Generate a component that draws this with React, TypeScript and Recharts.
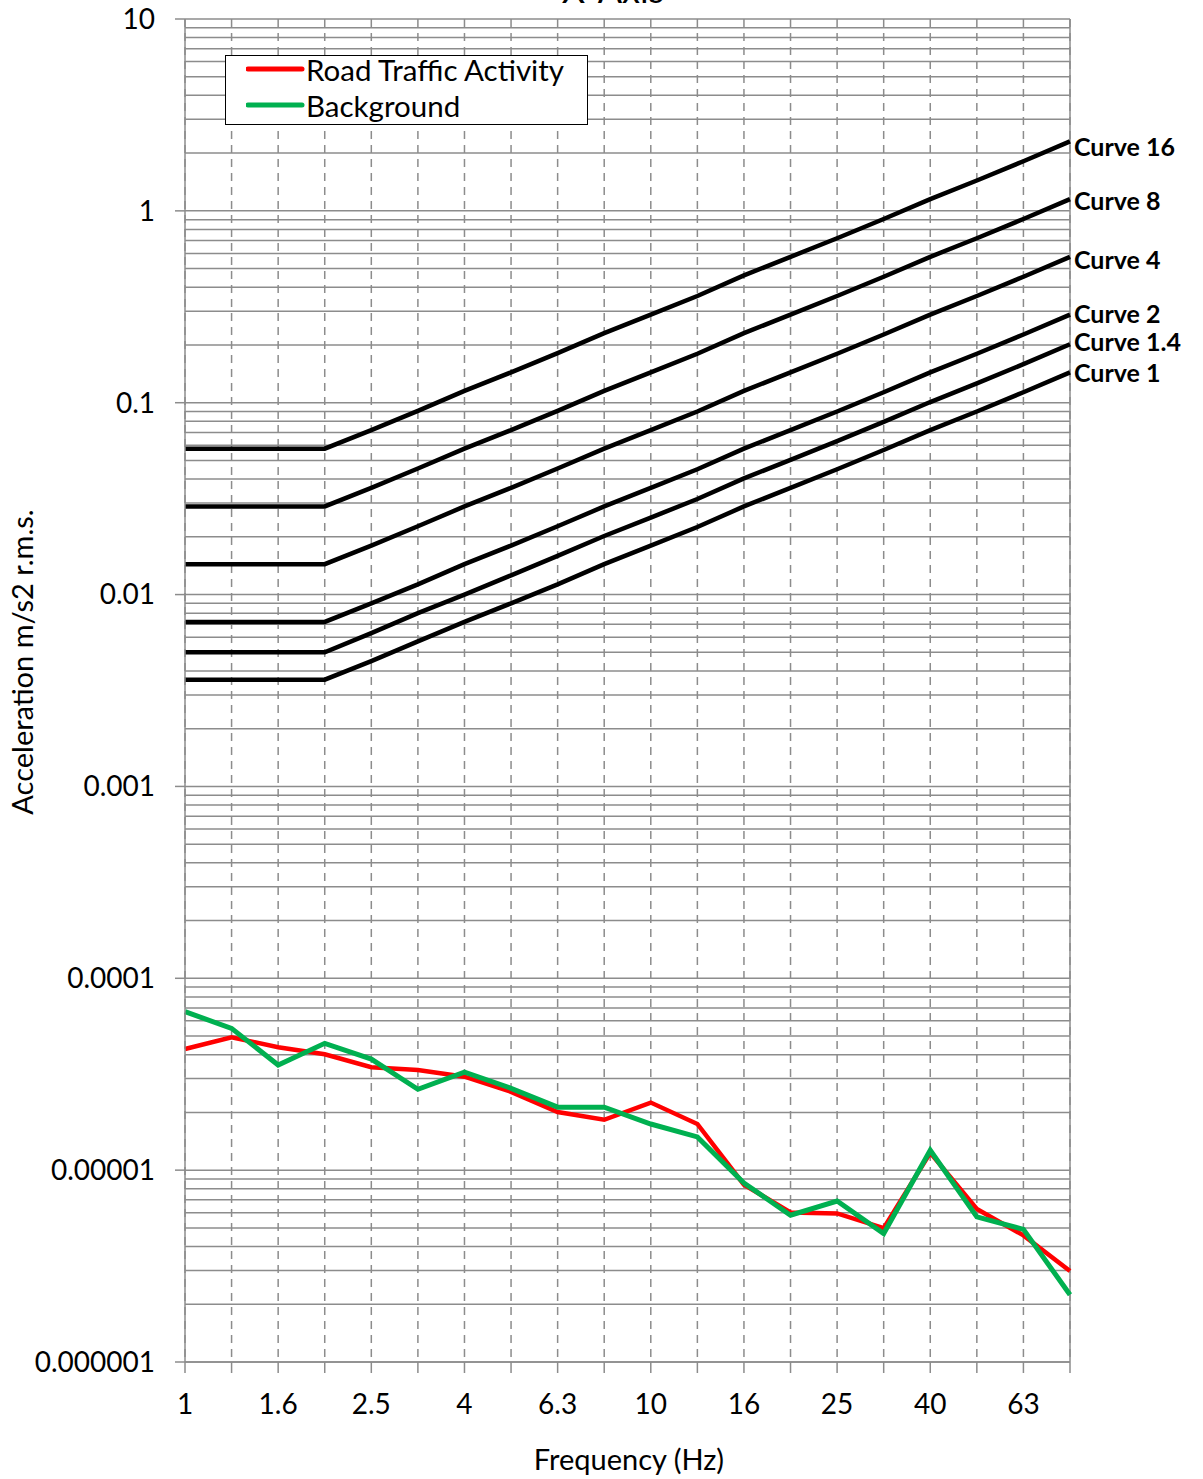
import React from "react";
import {
  LineChart,
  Line,
  XAxis,
  YAxis,
  CartesianGrid,
  Legend,
  ReferenceLine,
} from "recharts";

const FREQUENCIES = [
  "1", "1.25", "1.6", "2", "2.5", "3.15", "4", "5", "6.3", "8",
  "10", "12.5", "16", "20", "25", "31.5", "40", "50", "63", "80",
];

const ROAD_TRAFFIC = [
  4.28e-5, 4.93e-5, 4.37e-5, 4.02e-5, 3.44e-5, 3.33e-5, 3.07e-5, 2.56e-5, 2.01e-5, 1.83e-5,
  2.25e-5, 1.74e-5, 8.4e-6, 6.02e-6, 5.95e-6, 4.99e-6, 1.23e-5, 6.27e-6, 4.57e-6, 2.98e-6,
];

const BACKGROUND = [
  6.7e-5, 5.48e-5, 3.53e-5, 4.58e-5, 3.79e-5, 2.64e-5, 3.24e-5, 2.67e-5, 2.13e-5, 2.13e-5,
  1.74e-5, 1.49e-5, 8.57e-6, 5.82e-6, 6.9e-6, 4.67e-6, 1.27e-5, 5.71e-6, 4.91e-6, 2.24e-6,
];

const CURVE_1 = [
  0.0036, 0.0036, 0.0036, 0.0036, 0.0045, 0.0057, 0.0072, 0.009, 0.0113, 0.0144,
  0.018, 0.0225, 0.0288, 0.036, 0.045, 0.0567, 0.072, 0.09, 0.1134, 0.144,
];
const CURVE_1_4 = [
  0.005, 0.005, 0.005, 0.005, 0.0063, 0.008, 0.01, 0.0126, 0.0159, 0.0202,
  0.0252, 0.0315, 0.0403, 0.0504, 0.063, 0.0794, 0.1008, 0.126, 0.1588, 0.2016,
];
const CURVE_2 = [
  0.0072, 0.0072, 0.0072, 0.0072, 0.009, 0.0113, 0.0144, 0.018, 0.0227, 0.0288,
  0.036, 0.045, 0.0576, 0.072, 0.09, 0.1134, 0.144, 0.18, 0.2268, 0.288,
];
const CURVE_4 = [
  0.0144, 0.0144, 0.0144, 0.0144, 0.018, 0.0227, 0.0288, 0.036, 0.0454, 0.0576,
  0.072, 0.09, 0.1152, 0.144, 0.18, 0.2268, 0.288, 0.36, 0.4536, 0.576,
];
const CURVE_8 = [
  0.0288, 0.0288, 0.0288, 0.0288, 0.036, 0.0454, 0.0576, 0.072, 0.0907, 0.1152,
  0.144, 0.18, 0.2304, 0.288, 0.36, 0.4536, 0.576, 0.72, 0.9072, 1.152,
];
const CURVE_16 = [
  0.0576, 0.0576, 0.0576, 0.0576, 0.072, 0.0907, 0.1152, 0.144, 0.1814, 0.2304,
  0.288, 0.36, 0.4608, 0.576, 0.72, 0.9072, 1.152, 1.44, 1.8144, 2.304,
];

const CURVES = [
  { key: "c16", name: "Curve 16", values: CURVE_16 },
  { key: "c8", name: "Curve 8", values: CURVE_8 },
  { key: "c4", name: "Curve 4", values: CURVE_4 },
  { key: "c2", name: "Curve 2", values: CURVE_2 },
  { key: "c14", name: "Curve 1.4", values: CURVE_1_4 },
  { key: "c1", name: "Curve 1", values: CURVE_1 },
];

// small vertical nudges so the end labels sit like excel placed them
const LABEL_NUDGE: Record<string, number> = { c16: 6, c8: 2, c4: 3, c2: 0, c14: -2, c1: 1 };

const LEGEND_ORDER = ["Road Traffic Activity", "Background"];

const DECADES = [0.000001, 0.00001, 0.0001, 0.001, 0.01, 0.1, 1, 10];
const DECADE_LABELS = ["0.000001", "0.00001", "0.0001", "0.001", "0.01", "0.1", "1", "10"];
const MINOR_STEPS = [2, 3, 4, 5, 6, 7, 8, 9];

const FONT = "Lato, 'Open Sans', sans-serif";
const GRID = "#8c8c8c";

const yTicks: number[] = [];
DECADES.forEach((d, i) => {
  yTicks.push(d);
  if (i < DECADES.length - 1) MINOR_STEPS.forEach((m) => yTicks.push(+(m * d).toPrecision(3)));
});

const data = FREQUENCIES.map((f, i) => {
  const row: Record<string, number | string> = { f, road: ROAD_TRAFFIC[i], bg: BACKGROUND[i] };
  CURVES.forEach((c) => (row[c.key] = c.values[i]));
  return row;
});

// x arrives already shifted left by tickSize + tickMargin (6 + 2)
function YTick(props: any) {
  const { x, y, payload } = props;
  const idx = DECADES.findIndex((d) => Math.abs(d - payload.value) / d < 1e-6);
  if (idx < 0) return <g />;
  const axisX = x + 8;
  return (
    <g>
      <line x1={axisX - 10} x2={axisX} y1={y} y2={y} stroke={GRID} strokeWidth={1.5} />
      <text x={axisX - 30} y={y} dy="0.35em" textAnchor="end" fill="#000" fontSize={28} fontFamily={FONT}>
        {DECADE_LABELS[idx]}
      </text>
    </g>
  );
}

const curveLabel = (key: string, name: string) => (props: any) => {
  if (props.index !== FREQUENCIES.length - 1) return null;
  return (
    <text
      x={props.x + 4}
      y={props.y + (LABEL_NUDGE[key] || 0)}
      dy="0.35em"
      fill="#000"
      fontWeight="bold"
      fontSize={25}
      fontFamily={FONT}
    >
      {name}
    </text>
  );
};

function LegendBox({ payload }: any) {
  const items = (payload || [])
    .filter((p: any) => LEGEND_ORDER.includes(p.value))
    .sort((a: any, b: any) => LEGEND_ORDER.indexOf(a.value) - LEGEND_ORDER.indexOf(b.value));
  return (
    <div
      style={{
        position: "relative",
        width: 363,
        height: 70,
        boxSizing: "border-box",
        border: "1.5px solid #000",
        background: "#fff",
        fontFamily: FONT,
        fontSize: 29.5,
        color: "#000",
        textAlign: "left",
      }}
    >
      {items.map((it: any, i: number) => (
        <div
          key={it.value}
          style={{
            position: "absolute",
            left: 20,
            top: -5 + i * 36,
            height: 36,
            display: "flex",
            alignItems: "center",
            whiteSpace: "nowrap",
          }}
        >
          <svg width={60} height={10}>
            <line x1={2} x2={56} y1={5} y2={5} stroke={it.color} strokeWidth={5} strokeLinecap="round" />
          </svg>
          <span>{it.value}</span>
        </div>
      ))}
    </div>
  );
}

export default function App() {
  return (
    <div
      style={{
        position: "absolute",
        left: 0,
        top: 0,
        width: 1203,
        height: 1479,
        background: "#fff",
        overflow: "hidden",
      }}
    >
      <svg style={{ position: "absolute", left: 0, top: 0 }} width={1203} height={20}>
        <text x={613} y={3} textAnchor="middle" fontSize={36} fontFamily={FONT} fill="#000">
          X-Axis
        </text>
      </svg>
      <LineChart
        width={1203}
        height={1479}
        data={data}
        margin={{ top: 19, right: 133, bottom: 0, left: 0 }}
      >
        <CartesianGrid vertical={false} stroke={GRID} strokeWidth={1.5} />
        <CartesianGrid horizontal={false} stroke={GRID} strokeWidth={1.5} strokeDasharray="8 6" />
        <XAxis
          dataKey="f"
          interval={0}
          height={117}
          tickSize={11}
          tickMargin={21}
          stroke={GRID}
          strokeWidth={1.5}
          tickLine={{ stroke: GRID, strokeWidth: 1.5 }}
          tick={{ fill: "#000", fontSize: 28, fontFamily: FONT }}
          tickFormatter={(v: string, i: number) => (i % 2 === 0 ? v : "")}
          label={{
            content: () => (
              <text x={629} y={1460} dy="0.35em" textAnchor="middle" fill="#000" fontSize={29} fontFamily={FONT}>
                Frequency (Hz)
              </text>
            ),
          }}
        />
        <YAxis
          type="number"
          scale="log"
          domain={[0.000001, 10]}
          allowDataOverflow
          ticks={yTicks}
          interval={0}
          width={185}
          tickLine={false}
          stroke={GRID}
          strokeWidth={1.5}
          tick={<YTick />}
          label={{
            content: () => (
              <text
                x={23}
                y={662}
                dy="0.35em"
                textAnchor="middle"
                transform="rotate(-90 23 662)"
                fill="#000"
                fontSize={29}
                fontFamily={FONT}
              >
                Acceleration m/s2 r.m.s.
              </text>
            ),
          }}
        />
        <ReferenceLine x="80" stroke={GRID} strokeWidth={1.5} />
        <Legend
          layout="vertical"
          align="center"
          verticalAlign="middle"
          wrapperStyle={{ position: "absolute", left: 225, top: 55, width: 363, height: 70 }}
          content={<LegendBox />}
        />
        {CURVES.map((c) => (
          <Line
            key={c.key}
            dataKey={c.key}
            name={c.name}
            stroke="#000"
            strokeWidth={4.5}
            dot={false}
            type="linear"
            legendType="none"
            isAnimationActive={false}
            label={curveLabel(c.key, c.name)}
          />
        ))}
        <Line
          dataKey="road"
          name="Road Traffic Activity"
          stroke="#ff0000"
          strokeWidth={4.5}
          dot={false}
          type="linear"
          isAnimationActive={false}
        />
        <Line
          dataKey="bg"
          name="Background"
          stroke="#00b050"
          strokeWidth={5}
          dot={false}
          type="linear"
          isAnimationActive={false}
        />
      </LineChart>
    </div>
  );
}
